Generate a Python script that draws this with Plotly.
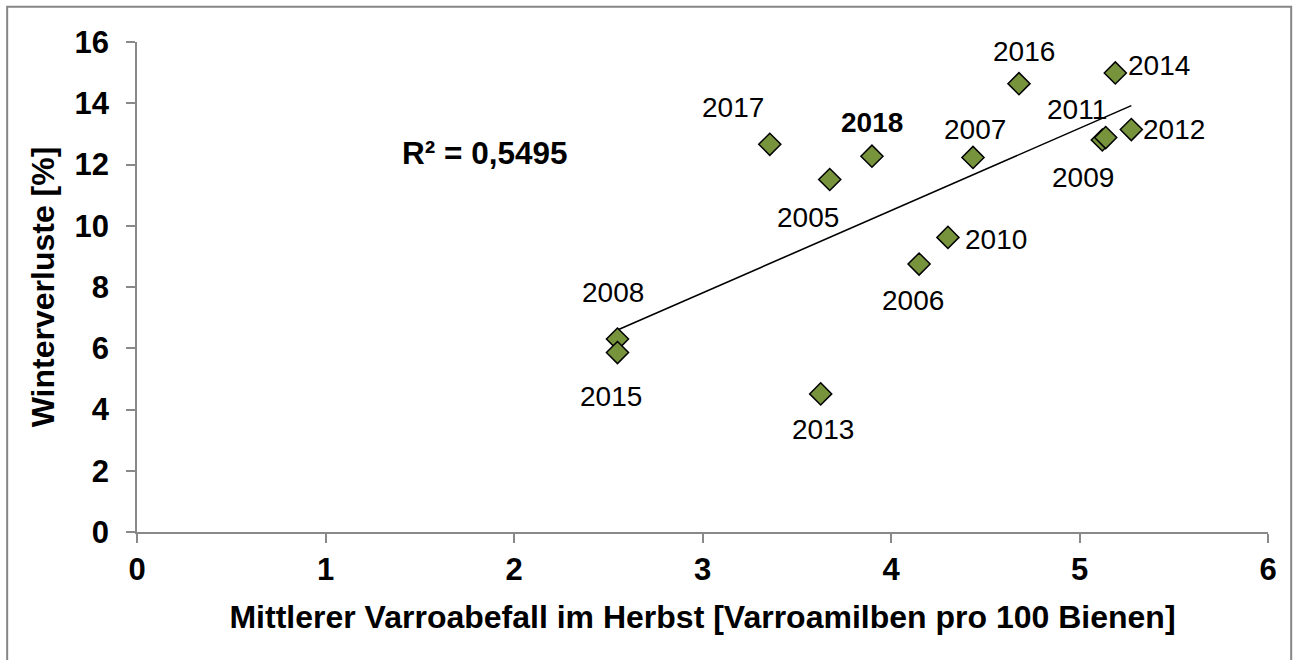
import numpy as np
import plotly.graph_objects as go

# ---- data ----
years = ["2005", "2006", "2007", "2008", "2009", "2010", "2011",
         "2012", "2013", "2014", "2015", "2016", "2017", "2018"]
varroa = [3.675, 4.149, 4.435, 2.549, 5.121, 4.302, 5.139,
          5.275, 3.627, 5.190, 2.549, 4.679, 3.357, 3.899]
losses = [11.51, 8.75, 12.23, 6.30, 12.80, 9.62, 12.88,
          13.14, 4.51, 14.99, 5.86, 14.64, 12.66, 12.27]
r2_text = "R² = 0,5495"
x_ticks = [0, 1, 2, 3, 4, 5, 6]
y_ticks = [0, 2, 4, 6, 8, 10, 12, 14, 16]

# label offsets in pixels (styling only): (xshift, yshift)
label_offsets = {
    "2005": (-22, -38), "2006": (-6, -36), "2007": (2, 28), "2008": (-4, 47),
    "2009": (-19, -37), "2010": (48, -2), "2011": (-29, 28), "2012": (43, 0),
    "2013": (2, -36), "2014": (44, 7), "2015": (-6, -44), "2016": (5, 32),
    "2017": (-37, 37), "2018": (0, 34),
}

FONT = "Liberation Sans, Arial, sans-serif"
AXIS_GRAY = "#898989"

# linear trendline from the data
xa = np.array(varroa)
ya = np.array(losses)
slope, intercept = np.polyfit(xa, ya, 1)
tx = np.array([xa.min(), xa.max()])
ty = slope * tx + intercept

fig = go.Figure()
fig.add_trace(go.Scatter(x=tx, y=ty, mode="lines",
                         line=dict(color="black", width=1.6),
                         showlegend=False, hoverinfo="skip"))
fig.add_trace(go.Scatter(x=varroa, y=losses, mode="markers",
                         marker=dict(symbol="diamond", size=17, color="#77933C",
                                     line=dict(color="black", width=1.5)),
                         text=years, showlegend=False))

for yr, xv, yv in zip(years, varroa, losses):
    dx, dy = label_offsets[yr]
    fig.add_annotation(x=xv, y=yv, text=yr, showarrow=False,
                       xshift=dx, yshift=dy,
                       font=dict(family=FONT, size=28, color="black",
                                 weight="bold" if yr == "2018" else "normal"))

fig.add_annotation(x=1.845, y=12.39, text=r2_text, showarrow=False,
                   font=dict(family=FONT, size=31.5, color="black", weight="bold"))

# outer frame
fig.add_shape(type="rect", xref="paper", yref="paper",
              x0=-0.1148, x1=1.0205, y0=-0.30, y1=1.0718,
              line=dict(color="#868686", width=2), fillcolor="rgba(0,0,0,0)",
              layer="below")

fig.update_xaxes(range=[0, 6], tickvals=x_ticks, showline=True, linecolor=AXIS_GRAY,
                 linewidth=1.5, ticks="outside", ticklen=9, tickcolor=AXIS_GRAY,
                 tickwidth=1.5, showgrid=False, zeroline=False,
                 tickfont=dict(family=FONT, size=31, color="black", weight="bold"),
                 ticklabelstandoff=0,
                 title=dict(text="Mittlerer Varroabefall im Herbst [Varroamilben pro 100 Bienen]",
                            font=dict(family=FONT, size=32, color="black", weight="bold"),
                            standoff=20))
fig.update_yaxes(range=[0, 16], tickvals=y_ticks, showline=True, linecolor=AXIS_GRAY,
                 linewidth=1.5, ticks="outside", ticklen=9, tickcolor=AXIS_GRAY,
                 tickwidth=1.5, showgrid=False, zeroline=False,
                 tickfont=dict(family=FONT, size=31, color="black", weight="bold"),
                 ticklabelstandoff=11,
                 title=dict(text="Winterverluste [%]",
                            font=dict(family=FONT, size=32, color="black", weight="bold"),
                            standoff=10))

fig.update_layout(width=1293, height=660, autosize=False,
                  margin=dict(l=137, r=25, t=42, b=128),
                  paper_bgcolor="white", plot_bgcolor="white")

fig.write_html("out.html", config={"displayModeBar": False},
               post_script="document.body.style.margin='0px';document.body.style.overflow='hidden';")
